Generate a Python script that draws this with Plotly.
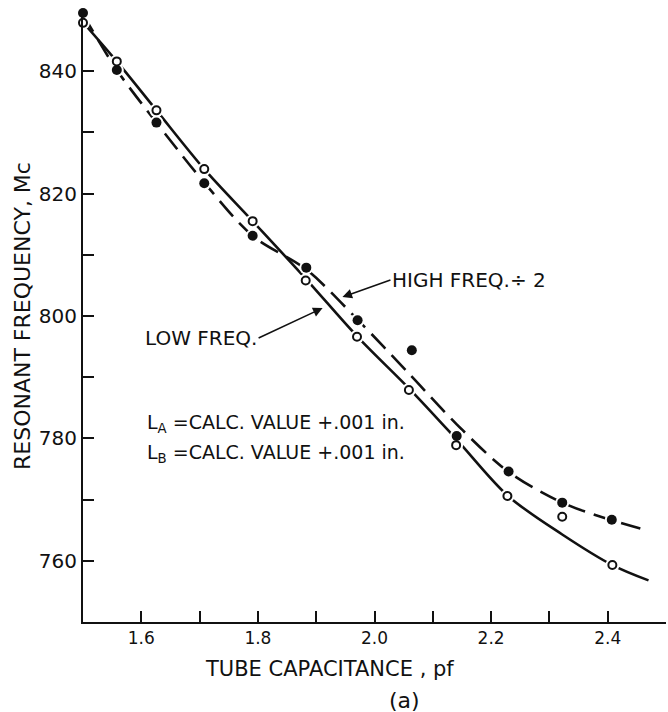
import plotly.graph_objects as go

# measured points: open circles = low freq, filled = high freq / 2
low_x = [1.500, 1.558, 1.626, 1.708, 1.791, 1.882, 1.970, 2.059, 2.140, 2.228, 2.322, 2.408]
low_y = [847.9, 841.6, 833.6, 824.0, 815.5, 805.8, 796.6, 787.9, 778.9, 770.6, 767.2, 759.3]
high_x = [1.500, 1.558, 1.626, 1.708, 1.791, 1.883, 1.971, 2.064, 2.141, 2.230, 2.322, 2.407]
high_y = [849.5, 840.2, 831.6, 821.7, 813.1, 807.9, 799.3, 794.4, 780.4, 774.6, 769.5, 766.7]

# hand drawn fit curves
curve_x = [1.500, 1.558, 1.626, 1.708, 1.791, 1.883, 1.971, 2.062, 2.141, 2.229, 2.322, 2.408, 2.470]
low_curve = [848.0, 841.6, 833.6, 824.0, 815.5, 806.0, 796.6, 787.9, 779.8, 770.6, 764.3, 759.3, 756.8]
high_curve = [849.3, 840.2, 831.6, 821.8, 813.1, 807.6, 799.4, 790.3, 782.3, 774.6, 769.5, 766.6, 764.9]

x_ticks = [1.6, 1.8, 2.0, 2.2, 2.4]
x_labels = ['1.6', '1.8', '2.0', '2.2', '2.4']
x_minor = [1.7, 1.9, 2.1, 2.3, 2.5]
y_ticks = [760, 780, 800, 820, 840]
y_labels = ['760', '780', '800', '820', '840']
y_minor = [770, 790, 810, 830, 850]

FONT = 'DejaVu Sans'
INK = '#111111'

fig = go.Figure()

fig.add_trace(go.Scatter(
    x=curve_x, y=low_curve, mode='lines',
    line=dict(color=INK, width=2.6, shape='spline', smoothing=0.9),
    name='LOW FREQ.',
))
fig.add_trace(go.Scatter(
    x=curve_x, y=high_curve, mode='lines',
    line=dict(color=INK, width=2.6, shape='spline', smoothing=0.9, dash='20px,9px'),
    name='HIGH FREQ. ÷ 2',
))

# white halo so the curves break around the points
fig.add_trace(go.Scatter(
    x=low_x + high_x, y=low_y + high_y, mode='markers',
    marker=dict(size=14, color='white'),
    hoverinfo='skip', cliponaxis=False,
))

fig.add_trace(go.Scatter(
    x=high_x, y=high_y, mode='markers',
    marker=dict(size=10, color=INK),
    cliponaxis=False,
))
fig.add_trace(go.Scatter(
    x=low_x, y=low_y, mode='markers',
    marker=dict(size=8, color='white', line=dict(width=2, color=INK)),
    cliponaxis=False,
))

ann_font = dict(family=FONT, size=20, color=INK)

fig.add_annotation(
    x=1.945, y=803.1, text='HIGH FREQ.÷ 2',
    showarrow=True, arrowhead=2, arrowsize=1.2, arrowwidth=1.6, arrowcolor=INK,
    ax=48, ay=-17, xanchor='left', yanchor='middle', font=ann_font,
)
fig.add_annotation(
    x=1.911, y=801.3, text='LOW FREQ.',
    showarrow=True, arrowhead=2, arrowsize=1.2, arrowwidth=1.6, arrowcolor=INK,
    ax=-64, ay=30, xanchor='right', yanchor='middle', font=ann_font,
)
fig.add_annotation(
    x=0.106, y=0.324, xref='paper', yref='paper', showarrow=False,
    text='L<sub>A</sub> =CALC. VALUE +.001 in.', xanchor='left', yanchor='middle',
    font=dict(family=FONT, size=19, color=INK),
)
fig.add_annotation(
    x=0.106, y=0.276, xref='paper', yref='paper', showarrow=False,
    text='L<sub>B</sub> =CALC. VALUE +.001 in.', xanchor='left', yanchor='middle',
    font=dict(family=FONT, size=19, color=INK),
)

# axis titles and panel letter
fig.add_annotation(
    x=-0.1046, y=0.5, xref='paper', yref='paper', showarrow=False,
    text='RESONANT FREQUENCY, Mc', textangle=-90,
    xanchor='center', yanchor='middle',
    font=dict(family=FONT, size=22, color=INK),
)
fig.add_annotation(
    x=0.206, y=-0.077, xref='paper', yref='paper', showarrow=False,
    text='TUBE CAPACITANCE , pf', xanchor='left', yanchor='middle',
    font=dict(family=FONT, size=21, color=INK),
)
fig.add_annotation(
    x=0.521, y=-0.1275, xref='paper', yref='paper', showarrow=False,
    text='(a)', xanchor='left', yanchor='middle',
    font=dict(family=FONT, size=22, color=INK),
)

tick_style = dict(ticks='inside', ticklen=11, tickwidth=2, tickcolor=INK)

fig.update_layout(
    width=668, height=712,
    margin=dict(l=83, r=2, t=10, b=90),
    paper_bgcolor='white', plot_bgcolor='white',
    showlegend=False,
    xaxis=dict(
        range=[1.5, 2.5], tickvals=x_ticks, ticktext=x_labels,
        minor=dict(tickvals=x_minor, **tick_style),
        showline=True, linewidth=2, linecolor=INK,
        showgrid=False, zeroline=False,
        tickfont=dict(family=FONT, size=17, color=INK),
        **tick_style,
    ),
    yaxis=dict(
        range=[750, 850], tickvals=y_ticks, ticktext=y_labels,
        minor=dict(tickvals=y_minor, **tick_style),
        showline=True, linewidth=2, linecolor=INK,
        showgrid=False, zeroline=False,
        tickfont=dict(family=FONT, size=20, color=INK),
        **tick_style,
    ),
)

fig.write_html('out.html', config={'displayModeBar': False},
               post_script="document.body.style.margin='0';")
